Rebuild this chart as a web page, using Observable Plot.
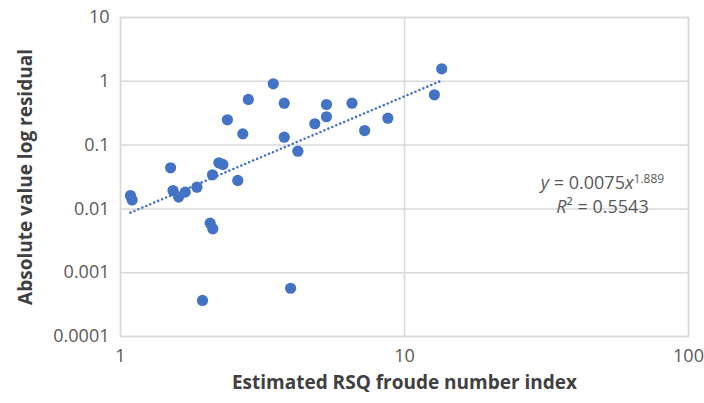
<!DOCTYPE html>
<html>
<head>
<meta charset="utf-8">
<script src="https://cdn.jsdelivr.net/npm/d3@7"></script>
<script src="https://cdn.jsdelivr.net/npm/@observablehq/plot@0.6"></script>
<style>
  html, body { margin: 0; padding: 0; background: #ffffff; }
  #chart svg { display: block; }
</style>
</head>
<body>
<div id="chart"></div>
<script>
// Estimated RSQ froude number index (x) and absolute log residual (y)
const froudeIndex = [
  1.084, 1.099, 1.501, 1.531, 1.602, 1.690, 1.858, 2.108, 2.220, 2.293,
  2.588, 2.069, 2.114, 1.944, 3.972, 2.379, 2.695, 2.819, 3.451, 3.772,
  3.772, 4.213, 4.832, 5.312, 5.312, 6.532, 7.238, 8.737, 12.74, 13.52
];
const absLogResidual = [
  0.0162, 0.0138, 0.0441, 0.0194, 0.0153, 0.0183, 0.0219, 0.0342, 0.0528, 0.0497,
  0.0279, 0.00597, 0.00488, 0.000367, 0.000571, 0.249, 0.150, 0.519, 0.914, 0.454,
  0.133, 0.0802, 0.216, 0.433, 0.278, 0.454, 0.169, 0.264, 0.614, 1.570
];

// Power-law trend fit: y = a * x^b, R² as reported
const fitA = 0.0075;
const fitB = 1.889;
const fitR2 = 0.5543;

const xTicks = [1, 10, 100];
const yTicks = [0.0001, 0.001, 0.01, 0.1, 1, 10];

const points = froudeIndex.map((x, i) => ({x, y: absLogResidual[i]}));
const xMin = d3.min(froudeIndex), xMax = d3.max(froudeIndex);
const trend = [xMin, xMax].map(x => ({x, y: fitA * Math.pow(x, fitB)}));

const FONT = "'Open Sans', 'Noto Sans', sans-serif";
const BLUE = "#4472C4";
const GRID = "#d9d9d9";

const chart = Plot.plot({
  width: 704,
  height: 403,
  marginLeft: 120,
  marginRight: 16,
  marginTop: 17,
  marginBottom: 67,
  style: {fontFamily: FONT, fontSize: "18px", color: "#595959", background: "#ffffff"},
  x: {type: "log", domain: [1, 100]},
  y: {type: "log", domain: [0.0001, 10]},
  marks: [
    Plot.gridX(xTicks, {stroke: GRID, strokeOpacity: 1, strokeWidth: 1.5}),
    Plot.gridY(yTicks, {stroke: GRID, strokeOpacity: 1, strokeWidth: 1.5}),
    Plot.frame({stroke: GRID, strokeWidth: 1.5}),
    Plot.axisX(xTicks, {tickSize: 0, tickPadding: 13, tickFormat: d => String(d), label: null, fill: "#595959"}),
    Plot.axisY(yTicks, {tickSize: 0, tickPadding: 11, tickFormat: d => String(d), label: null, fill: "#595959"}),
    Plot.line(trend, {x: "x", y: "y", stroke: BLUE, strokeWidth: 2.6, strokeDasharray: "0 4.3", strokeLinecap: "round"}),
    Plot.dot(points, {x: "x", y: "y", r: 5.6, fill: BLUE, stroke: "none"}),
    Plot.text(["Estimated RSQ froude number index"], {
      frameAnchor: "bottom", dy: 52, fontSize: 19, fontWeight: "bold", fill: "#404040"
    }),
    Plot.text(["Absolute value log residual"], {
      frameAnchor: "left", dx: -95, rotate: -90, textAnchor: "middle",
      fontSize: 19, fontWeight: "bold", fill: "#404040"
    })
  ]
});

document.getElementById("chart").appendChild(chart);

// Trendline equation and R² annotation, anchored in data coordinates
const eqX = 50, eqY = 0.025, r2Y = 0.0105;
const sx = chart.scale("x"), sy = chart.scale("y");
const svg = d3.select(chart);
const ann = svg.append("g")
  .attr("font-family", FONT)
  .attr("font-size", 18)
  .attr("fill", "#595959")
  .attr("text-anchor", "middle");

const eq = ann.append("text")
  .attr("x", sx.apply(eqX))
  .attr("y", sy.apply(eqY))
  .attr("dy", "0.35em");
eq.append("tspan").attr("font-style", "italic").text("y");
eq.append("tspan").text(` = ${fitA}`);
eq.append("tspan").attr("font-style", "italic").text("x");
eq.append("tspan").attr("font-size", 12).attr("dy", "-0.55em").text(String(fitB));

const r2 = ann.append("text")
  .attr("x", sx.apply(eqX))
  .attr("y", sy.apply(r2Y))
  .attr("dy", "0.35em");
r2.append("tspan").attr("font-style", "italic").text("R");
r2.append("tspan").text(`² = ${fitR2}`);
</script>
</body>
</html>
